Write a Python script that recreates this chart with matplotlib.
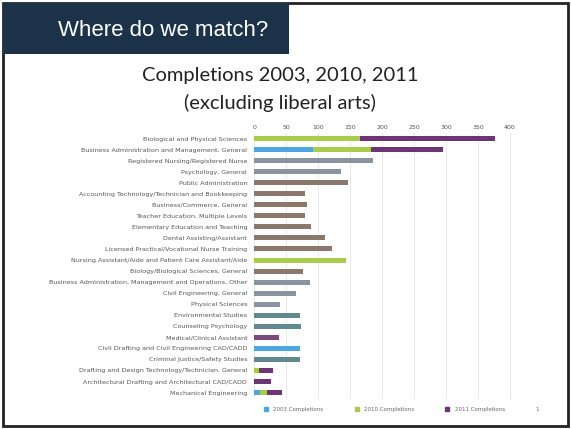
import matplotlib.pyplot as plt
from matplotlib.patches import Rectangle
from matplotlib.lines import Line2D
import numpy as np

# programmes, top to bottom
programs = [
    "Biological and Physical Sciences",
    "Business Administration and Management, General",
    "Registered Nursing/Registered Nurse",
    "Psychology, General",
    "Public Administration",
    "Accounting Technology/Technician and Bookkeeping",
    "Business/Commerce, General",
    "Teacher Education, Multiple Levels",
    "Elementary Education and Teaching",
    "Dental Assisting/Assistant",
    "Licensed Practical/Vocational Nurse Training",
    "Nursing Assistant/Aide and Patient Care Assistant/Aide",
    "Biology/Biological Sciences, General",
    "Business Administration, Management and Operations, Other",
    "Civil Engineering, General",
    "Physical Sciences",
    "Environmental Studies",
    "Counseling Psychology",
    "Medical/Clinical Assistant",
    "Civil Drafting and Civil Engineering CAD/CADD",
    "Criminal Justice/Safety Studies",
    "Drafting and Design Technology/Technician, General",
    "Architectural Drafting and Architectural CAD/CADD",
    "Mechanical Engineering",
]

completions_2003 = [0, 92, 0, 0, 0, 0, 0, 0, 0, 0, 0, 0, 0, 0, 0, 0, 0, 0, 0, 71, 0, 0, 0, 10]
completions_2010 = [166, 91, 0, 0, 0, 0, 0, 0, 0, 0, 0, 144, 0, 0, 0, 0, 0, 0, 0, 0, 0, 7, 0, 10]
completions_2011 = [210, 112, 186, 136, 147, 80, 83, 80, 89, 111, 122, 0, 77, 88, 66, 41,
                    71, 73, 39, 0, 71, 23, 27, 24]

series_names = ["2003 Completions", "2010 Completions", "2011 Completions"]

# colours as they came out of the scan
blue, green, purple = "#4da6e0", "#a9cc4a", "#6e3476"
grey, brown, teal = "#8a949e", "#8c776c", "#62898f"
row_tint = [None, None, grey, grey, brown, brown, brown, brown, brown, brown, brown, None,
            brown, grey, grey, grey, teal, teal, "#7a4a7e", None, teal, None, purple, None]

fig = plt.figure(figsize=(5.71, 4.29), dpi=100)
fig.patch.set_facecolor("white")

# slide frame and header box
fig.add_artist(Rectangle((0.006, 0.006), 0.988, 0.988, transform=fig.transFigure,
                         fill=False, edgecolor="#222222", linewidth=2))
fig.add_artist(Rectangle((0.006, 0.874), 0.5, 0.12, transform=fig.transFigure,
                         facecolor="#1b3249", edgecolor="none"))
fig.text(0.285, 0.93, "Where do we match?", color="white", fontsize=16,
         ha="center", va="center", family="Liberation Sans")
fig.text(0.49, 0.825, "Completions 2003, 2010, 2011", fontsize=14.5,
         ha="center", va="center", family="Lato", color="#222222")
fig.text(0.49, 0.76, "(excluding liberal arts)", fontsize=14.5,
         ha="center", va="center", family="Lato", color="#222222")

ax = fig.add_axes([0.445, 0.072, 0.448, 0.618])
y = np.arange(len(programs))
left = np.zeros(len(programs))
for vals, base_col in zip([completions_2003, completions_2010, completions_2011],
                          [blue, green, purple]):
    vals = np.array(vals, dtype=float)
    cols = [t if t is not None else base_col for t in row_tint]
    ax.barh(y, vals, left=left, height=0.45, color=cols, zorder=3)
    left += vals

ax.set_ylim(len(programs) - 0.5, -0.5)
ax.set_xlim(0, 400)
ax.set_xticks(np.arange(0, 401, 50))
ax.xaxis.tick_top()
ax.tick_params(axis="x", labelsize=4.5, colors="#555555", length=0, pad=2)
ax.set_yticks(y)
ax.set_yticklabels(programs, fontsize=4.6, color="#555555")
ax.tick_params(axis="y", length=0, pad=5)
ax.grid(axis="x", color="#e6e6e6", linewidth=0.6, zorder=0)
for s in ["top", "left", "bottom"]:
    ax.spines[s].set_visible(False)
ax.spines["right"].set_color("#e6e6e6")

handles = [Line2D([], [], marker="s", linestyle="", color=c, markersize=3)
           for c in [blue, green, purple]]
fig.legend(handles, series_names, loc="center", bbox_to_anchor=(0.67, 0.045), ncol=3,
           fontsize=4, frameon=False, columnspacing=5, handletextpad=0.3,
           labelcolor="#666666")
fig.text(0.94, 0.045, "1", fontsize=4, color="#666666", ha="center", va="center")

fig.savefig("out.png", dpi=100)
